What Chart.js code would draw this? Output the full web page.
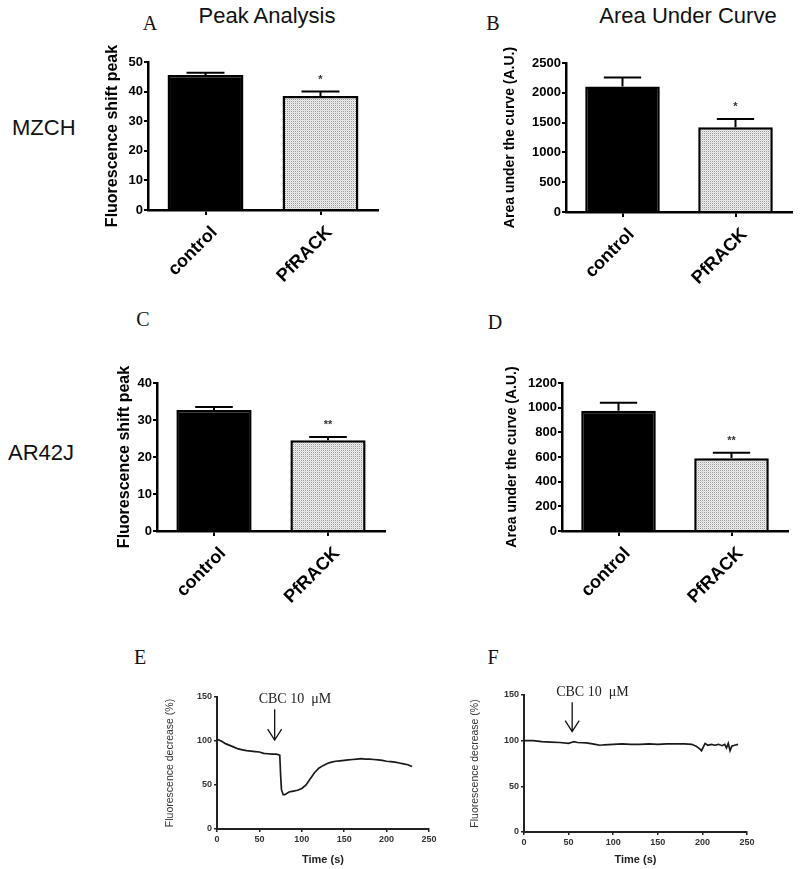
<!DOCTYPE html>
<html>
<head>
<meta charset="utf-8">
<script src="https://cdn.jsdelivr.net/npm/chart.js@4/dist/chart.umd.min.js"></script>
<style>
    body { margin: 0; background: #fff; width: 800px; height: 869px; position: relative; overflow: hidden;
           font-family: "Liberation Sans", Arial, sans-serif; }
    .box { position: absolute; }
    .txt { position: absolute; white-space: nowrap; line-height: 1; transform: translate(-50%, -50%); color: #111; }
    .left { transform: translate(0, -50%); }
    .head { font-size: 22px; }
    .letter { font-family: "Liberation Serif", "Times New Roman", serif; font-size: 20px; }
</style>
</head>
<body>

<div class="txt head" style="left:267px;top:16px">Peak Analysis</div>
<div class="txt head" style="left:688px;top:16px">Area Under Curve</div>
<div class="txt letter" style="left:150px;top:23px">A</div>
<div class="txt letter" style="left:493px;top:23px">B</div>
<div class="txt letter" style="left:143px;top:319px">C</div>
<div class="txt letter" style="left:495px;top:322px">D</div>
<div class="txt letter" style="left:140px;top:657px">E</div>
<div class="txt letter" style="left:493px;top:657px">F</div>
<div class="txt head left" style="left:12px;top:128px">MZCH</div>
<div class="txt head left" style="left:8px;top:453px">AR42J</div>

<div class="box" style="left:99px;top:35px;width:285px;height:255px"><canvas id="chartA"></canvas></div>
<div class="box" style="left:498px;top:35px;width:300px;height:257px"><canvas id="chartB"></canvas></div>
<div class="box" style="left:111px;top:350px;width:280px;height:261px"><canvas id="chartC"></canvas></div>
<div class="box" style="left:500px;top:350px;width:294px;height:261px"><canvas id="chartD"></canvas></div>
<div class="box" style="left:160px;top:680px;width:279px;height:189px"><canvas id="chartE"></canvas></div>
<div class="box" style="left:465px;top:680px;width:292px;height:189px"><canvas id="chartF"></canvas></div>

<script>
// Data
const categories = ['control', 'PfRACK'];

// MZCH
const peakMZCH = [45.6, 38.5];
const peakMZCHsem = [0.8, 1.5];
const aucMZCH = [2105, 1420];
const aucMZCHsem = [150, 140];
const starsMZCH = ['', '*'];

// AR42J
const peakAR42J = [32.7, 24.5];
const peakAR42Jsem = [0.8, 0.9];
const aucAR42J = [975, 590];
const aucAR42Jsem = [65, 45];
const starsAR42J = ['', '**'];

// traces (time in s, fluorescence %)
const timeE = [0, 5, 10, 15, 20, 25, 30, 35, 40, 45, 50, 55, 60, 65, 70, 74, 75, 76, 78, 80,
    85, 90, 95, 100, 105, 110, 115, 120, 125, 130, 135, 140, 145, 150, 155, 160, 165, 170,
    175, 180, 185, 190, 195, 200, 205, 210, 215, 220, 225, 230];
const valueE = [102, 100, 97, 95, 93, 91, 90, 89, 88.5, 88, 87.5, 86, 85.5, 85, 85, 84, 62, 45, 39, 39,
    42, 43, 44, 46, 50, 57, 64, 69, 72, 74.5, 76, 77, 77.5, 78, 78.5, 79, 79.5, 80,
    79.5, 79.5, 79, 78.5, 78, 77, 76.5, 76, 75, 74, 73, 71];

const timeF = [0, 10, 20, 30, 40, 50, 53, 56, 60, 70, 80, 85, 90, 100, 110, 120, 130, 140, 150, 160,
    170, 180, 188, 193, 197, 199, 201, 203, 206, 210, 214, 218, 222, 225, 227, 229, 231, 233, 236, 240];
const valueF = [100, 100, 99, 98.5, 98, 97, 98, 99, 98, 97.5, 96, 95, 95.5, 96, 96.5, 96, 96, 96.5, 96, 96.5,
    96.5, 96.5, 96, 94, 91, 89, 93, 97, 95, 96, 95, 96, 94.5, 96, 92, 97, 89, 94, 95, 96];

// CBC addition: time, arrow top, arrow tip
const arrowE = [68, 136, 101];
const arrowF = [54, 142, 110];
const arrowText = 'CBC 10  \u03BCM';

const FONT = '"Liberation Sans", Arial, sans-serif';

// light stipple for the PfRACK bars
function makeDots() {
    const tile = document.createElement('canvas');
    tile.width = 2;
    tile.height = 2;
    const t = tile.getContext('2d');
    t.fillStyle = '#f0f0f0';
    t.fillRect(0, 0, 2, 2);
    t.fillStyle = '#999';
    t.fillRect(0, 0, 1, 1);
    t.fillStyle = '#d6d6d6';
    t.fillRect(1, 1, 1, 1);
    return t.createPattern(tile, 'repeat');
}

// upper SEM whisker + significance stars
const errorBarPlugin = {
    id: 'semBars',
    afterDatasetsDraw(chart, args, opts) {
        if (!opts.sem) return;
        const ctx = chart.ctx;
        const yScale = chart.scales.y;
        const meta = chart.getDatasetMeta(0);
        const values = chart.data.datasets[0].data;
        ctx.save();
        ctx.strokeStyle = '#000';
        ctx.lineWidth = 2;
        meta.data.forEach((bar, i) => {
            const top = yScale.getPixelForValue(values[i] + opts.sem[i]);
            const half = bar.width / 4;
            ctx.beginPath();
            ctx.moveTo(bar.x, bar.y);
            ctx.lineTo(bar.x, top);
            ctx.moveTo(bar.x - half, top);
            ctx.lineTo(bar.x + half, top);
            ctx.stroke();
            if (opts.stars && opts.stars[i]) {
                ctx.fillStyle = '#333';
                ctx.font = 'bold 11px ' + FONT;
                ctx.textAlign = 'center';
                ctx.textBaseline = 'middle';
                ctx.fillText(opts.stars[i], bar.x, top - 12);
            }
        });
        ctx.restore();
    }
};

const arrowPlugin = {
    id: 'cbcArrow',
    afterDatasetsDraw(chart, args, opts) {
        if (!opts.at) return;
        const ctx = chart.ctx;
        const px = chart.scales.x.getPixelForValue(opts.at[0]);
        const y1 = chart.scales.y.getPixelForValue(opts.at[1]);
        const y2 = chart.scales.y.getPixelForValue(opts.at[2]);
        ctx.save();
        ctx.strokeStyle = '#111';
        ctx.lineWidth = 1.3;
        ctx.beginPath();
        ctx.moveTo(px, y1);
        ctx.lineTo(px, y2);
        ctx.moveTo(px - 7, y2 - 11);
        ctx.lineTo(px, y2);
        ctx.lineTo(px + 7, y2 - 11);
        ctx.stroke();
        ctx.fillStyle = '#222';
        ctx.font = '14px "Liberation Serif", "Times New Roman", serif';
        ctx.textAlign = 'left';
        ctx.textBaseline = 'bottom';
        ctx.fillText(opts.text, px - 16, y1 - 3);
        ctx.restore();
    }
};

function barChart(id, values, sem, stars, yMax, yStep, yTitle, titleSize, yWidth, padTop) {
    const dots = makeDots();
    return new Chart(document.getElementById(id), {
        type: 'bar',
        data: {
            labels: categories,
            datasets: [{
                data: values,
                backgroundColor: ['#000', dots],
                borderColor: '#000',
                borderWidth: 2.5,
                barPercentage: 0.66,
                categoryPercentage: 1
            }]
        },
        plugins: [errorBarPlugin],
        options: {
            responsive: true,
            maintainAspectRatio: false,
            animation: false,
            layout: { padding: { top: padTop, right: 6 } },
            plugins: {
                legend: { display: false },
                tooltip: { enabled: false },
                semBars: { sem: sem, stars: stars }
            },
            scales: {
                x: {
                    offset: true,
                    afterFit: s => { s.height = 80; },
                    grid: { offset: false, drawOnChartArea: false, color: '#000', lineWidth: 2, tickLength: 5 },
                    border: { color: '#000', width: 2.5 },
                    ticks: {
                        color: '#000',
                        font: { family: FONT, size: 18, weight: 'bold' },
                        minRotation: 45,
                        maxRotation: 45,
                        padding: 7,
                        labelOffset: 9
                    }
                },
                y: {
                    min: 0,
                    max: yMax,
                    afterFit: s => { s.width = yWidth; },
                    grid: { drawOnChartArea: false, color: '#000', lineWidth: 2, tickLength: 4 },
                    border: { color: '#000', width: 2.5 },
                    ticks: {
                        stepSize: yStep,
                        color: '#000',
                        padding: 1,
                        callback: v => String(v),
                        font: { family: FONT, size: 13, weight: 'bold' }
                    },
                    title: {
                        display: true,
                        text: yTitle,
                        color: '#000',
                        font: { family: FONT, size: titleSize, weight: 'bold' }
                    }
                }
            }
        }
    });
}

function traceChart(id, times, values, arrow, yWidth, xHeight, padTop) {
    const points = times.map((t, i) => ({ x: t, y: values[i] }));
    return new Chart(document.getElementById(id), {
        type: 'scatter',
        data: {
            datasets: [{
                data: points,
                showLine: true,
                borderColor: '#1a1a1a',
                borderWidth: 1.7,
                pointRadius: 0,
                tension: 0
            }]
        },
        plugins: [arrowPlugin],
        options: {
            responsive: true,
            maintainAspectRatio: false,
            animation: false,
            layout: { padding: { top: padTop, right: 10 } },
            plugins: {
                legend: { display: false },
                tooltip: { enabled: false },
                cbcArrow: { at: arrow, text: arrowText }
            },
            scales: {
                x: {
                    type: 'linear',
                    min: 0,
                    max: 250,
                    afterFit: s => { s.height = xHeight; },
                    grid: { drawOnChartArea: false, color: '#222', lineWidth: 1.5, tickLength: 3 },
                    border: { color: '#222', width: 2 },
                    ticks: { stepSize: 50, color: '#333', padding: 2, font: { family: FONT, size: 9, weight: 'bold' } },
                    title: { display: true, text: 'Time (s)', color: '#222', padding: 2,
                        font: { family: FONT, size: 11, weight: 'bold' } }
                },
                y: {
                    min: 0,
                    max: 150,
                    afterFit: s => { s.width = yWidth; },
                    grid: { drawOnChartArea: false, color: '#222', lineWidth: 1.5, tickLength: 3 },
                    border: { color: '#222', width: 2 },
                    ticks: { stepSize: 50, color: '#333', padding: 2, font: { family: FONT, size: 9, weight: 'bold' } },
                    title: { display: true, text: 'Fluorescence decrease (%)', color: '#333',
                        font: { family: FONT, size: 10.5 } }
                }
            }
        }
    });
}

barChart('chartA', peakMZCH, peakMZCHsem, starsMZCH, 50, 10, 'Fluorescence shift peak', 16, 49, 27);
barChart('chartB', aucMZCH, aucMZCHsem, starsMZCH, 2500, 500, 'Area under the curve (A.U.)', 14, 68, 28);
barChart('chartC', peakAR42J, peakAR42Jsem, starsAR42J, 40, 10, 'Fluorescence shift peak', 16, 46, 33);
barChart('chartD', aucAR42J, aucAR42Jsem, starsAR42J, 1200, 200, 'Area under the curve (A.U.)', 14, 62, 33);
traceChart('chartE', timeE, valueE, arrowE, 57, 40, 17);
traceChart('chartF', timeF, valueF, arrowF, 59, 37, 15);
</script>
</body>
</html>
